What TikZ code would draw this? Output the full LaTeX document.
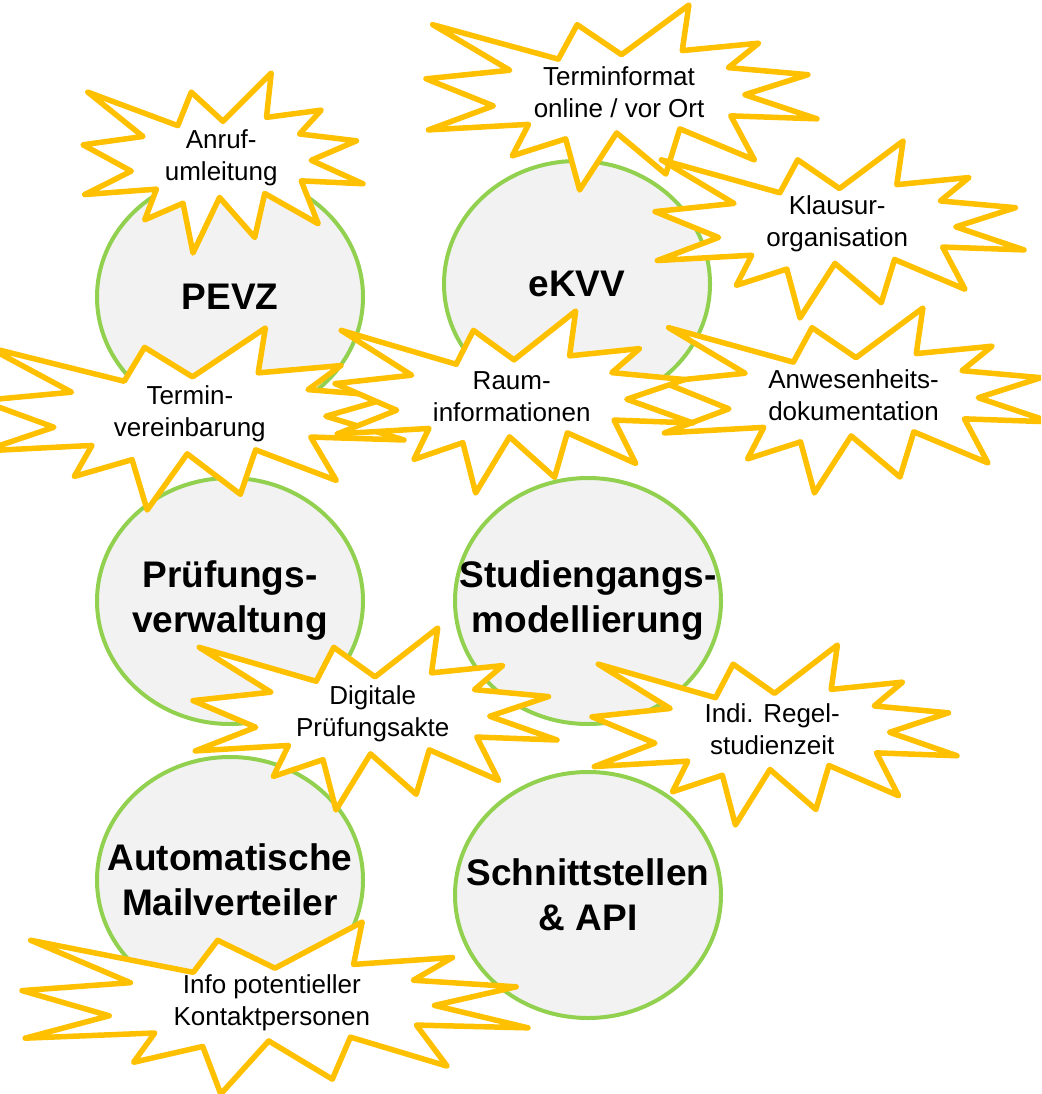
\documentclass[tikz,border=0pt]{standalone}
\usepackage{fontspec}
\setmainfont{Liberation Sans}
\usetikzlibrary{positioning}

\definecolor{burstorange}{HTML}{FFC000}
\definecolor{fieldgreen}{HTML}{92D050}
\definecolor{fieldgray}{HTML}{F2F2F2}

\tikzset{
    field/.style={fill=fieldgray, draw=fieldgreen, line width=4pt},
    fieldtext/.style={align=center, inner sep=0pt,
        font=\fontsize{37}{45}\selectfont\bfseries},
    burstline/.style={fill=white, draw=burstorange, line width=5.5pt,
        line join=round},
    bursttext/.style={align=center, inner sep=0pt,
        font=\fontsize{26}{32}\selectfont}
}

% name, left, top, width, height, text
\newcommand{\burst}[6]{%
    \begin{scope}[shift={(#2,#3)}, xscale=#4/216, yscale=#5/216]
        \draw[burstline] (108,58) -- (145.22,0) -- (141.55,53.25)
            -- (183.8,44.57) -- (167.02,73.15) -- (210.97,81.37)
            -- (176.07,104.75) -- (216,132.9) -- (168.37,129.42)
            -- (181.45,180.95) -- (140.2,144.57) -- (132.47,197.37)
            -- (105.32,149.35) -- (84.85,216) -- (77.15,156.27)
            -- (47.62,176.17) -- (56.67,139.37) -- (1.35,145.87)
            -- (37.22,117.75) -- (0,86.15) -- (46.27,76.17)
            -- (3.7,22.95) -- (73.12,63.2) -- (83.52,22.95) -- cycle;
    \end{scope}
    \node[bursttext] (#1) at ({#2+0.4937*#4},{#3+0.469*#5}) {#6};
}

\begin{document}
\begin{tikzpicture}[x=1pt, y=-1pt]
    \path[use as bounding box, clip] (0,0) rectangle (1041,1094);

    \foreach \name/\x/\y/\txt in {pevz/230/297/PEVZ, ekvv/577/284/eKVV,
            pruef/230/601/{Pr\"ufungs-\\verwaltung},
            studg/588/601/{Studiengangs-\\modellierung},
            mail/230/880/{Automatische\\Mailverteiler},
            api/588/895/{Schnittstellen\\\& API}} {
        \draw[field] (\x,\y) ellipse [x radius=133, y radius=123];
        \node[fieldtext] (\name) at (\x,\y) {\txt};
    }

    \burst{anruf}{83}{73}{280}{180}{Anruf-\\umleitung}
    \burst{format}{426}{5}{391}{185}{Terminformat\\online / vor Ort}
    \burst{klausur}{655}{141}{369}{177}{Klausur-\\organisation}
    \burst{anwesen}{662}{308}{388}{185}{Anwesenheits-\\dokumentation}
    \burst{termin}{-19}{328}{423}{182}{Termin-\\vereinbarung}
    \burst{raum}{335}{311}{358}{182}{Raum-\\informationen}
    \burst{akte}{193}{628}{364}{182}{Digitale\\Pr\"ufungsakte}
    \burst{regel}{592}{645}{365}{180}{Indi. Regel-\\studienzeit}
    \burst{kontakt}{22}{922}{506}{172}{Info potentieller\\Kontaktpersonen}
\end{tikzpicture}
\end{document}
